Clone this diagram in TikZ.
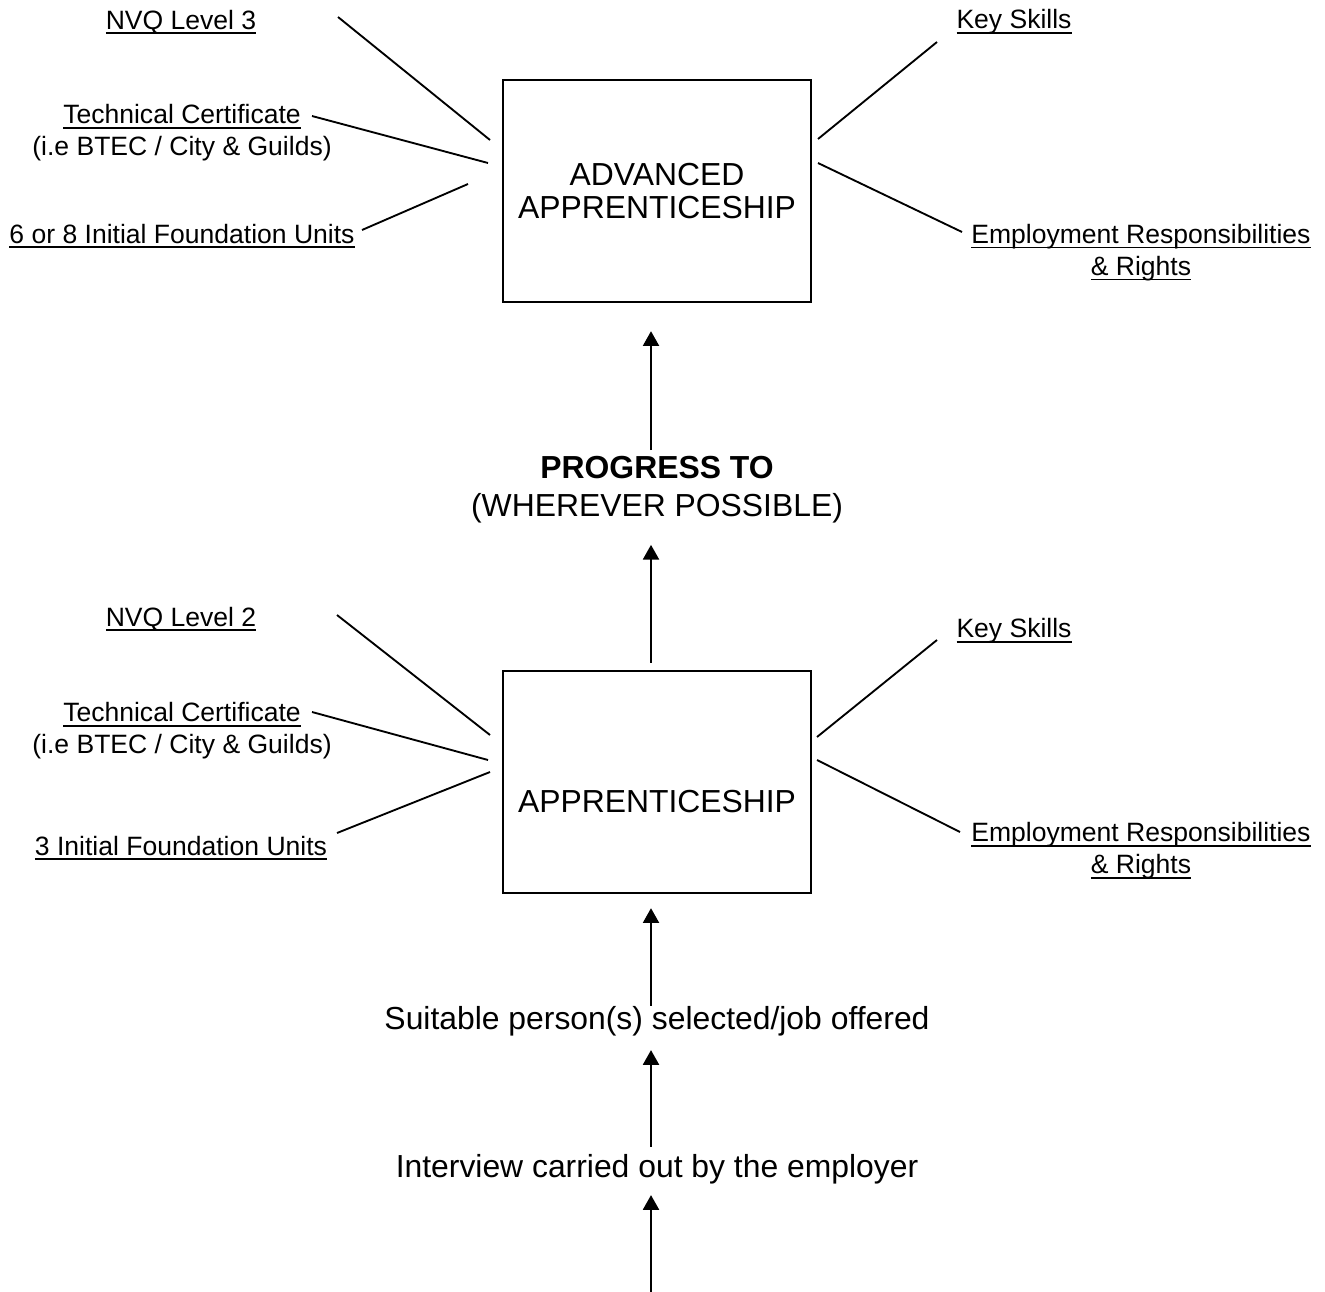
\documentclass[tikz,border=0pt]{standalone}
\usepackage{fontspec}
\setmainfont{Liberation Sans}
\usetikzlibrary{arrows.meta}

\newcommand\lblsize{\fontsize{19.9pt}{24pt}\selectfont}
\newcommand\bigsize{\fontsize{23.9pt}{24.75pt}\selectfont}
\newcommand\ulbl[1]{\leavevmode\setbox0=\hbox{#1}\rlap{\vrule width \wd0 height -2.4pt depth 3.6pt}\box0}

\begin{document}
\begin{tikzpicture}[x=0.75pt,y=-0.75pt,
	qbox/.style={rectangle,draw=black,line width=1.8pt,minimum width=231pt,minimum height=166.5pt,align=center,font=\bigsize},
	lbl/.style={inner sep=0pt,align=center,font=\lblsize},
	stage/.style={inner sep=0pt,align=center,font=\bigsize},
	lnk/.style={line width=1.4pt},
	arr/.style={line width=1.4pt,-{Triangle[length=11pt,width=12pt]}}]
	\useasboundingbox (0,0) rectangle (1325,1292);
	% the two boxes
	\node[qbox] (adv) at (657,191) {ADVANCED\\APPRENTICESHIP};
	\node[qbox,text height=48pt,text depth=2.25pt] (app) at (657,782) {APPRENTICESHIP};
	% steps up the middle
	\node[stage] (prog) at (657,490) {\textbf{PROGRESS TO}\\[4pt](WHEREVER POSSIBLE)};
	\node[stage] (suit) at (657,1021) {Suitable person(s) selected/job offered};
	\node[stage] (intv) at (657,1169) {Interview carried out by the employer};
	\coordinate (start) at (651,1292);
	% labels round the advanced apprenticeship
	\node[lbl] (nvqA) at (181,22) {\ulbl{NVQ Level 3}};
	\node[lbl] (techA) at (182,133) {\ulbl{Technical Certificate}\\(i.e BTEC / City \& Guilds)};
	\node[lbl] (unitA) at (182,236) {\ulbl{6 or 8 Initial Foundation Units}};
	\node[lbl] (keyA) at (1014,22) {\ulbl{Key Skills}};
	\node[lbl] (empA) at (1141,252.5) {\ulbl{Employment Responsibilities}\\\ulbl{\& Rights}};
	% labels round the apprenticeship
	\node[lbl] (nvqB) at (181,619) {\ulbl{NVQ Level 2}};
	\node[lbl] (techB) at (182,731) {\ulbl{Technical Certificate}\\(i.e BTEC / City \& Guilds)};
	\node[lbl] (unitB) at (181,848) {\ulbl{3 Initial Foundation Units}};
	\node[lbl] (keyB) at (1014,631) {\ulbl{Key Skills}};
	\node[lbl] (empB) at (1141,851) {\ulbl{Employment Responsibilities}\\\ulbl{\& Rights}};
	% line ends
	\coordinate (nvqA-e) at (338,17);   \coordinate (advW1) at (490,140);
	\coordinate (techA-e) at (312,116); \coordinate (advW2) at (488,163);
	\coordinate (unitA-e) at (362,230); \coordinate (advW3) at (468,184);
	\coordinate (keyA-w) at (937,42);   \coordinate (advE1) at (818,139);
	\coordinate (empA-w) at (962,232);  \coordinate (advE2) at (818,163);
	\coordinate (nvqB-e) at (337,615);  \coordinate (appW1) at (490,735);
	\coordinate (techB-e) at (312,712); \coordinate (appW2) at (488,760);
	\coordinate (unitB-e) at (337,833); \coordinate (appW3) at (490,772);
	\coordinate (keyB-w) at (937,640);  \coordinate (appE1) at (817,737);
	\coordinate (empB-w) at (960,832);  \coordinate (appE2) at (817,760);
	\draw[lnk] (nvqA-e) -- (advW1);
	\draw[lnk] (techA-e) -- (advW2);
	\draw[lnk] (unitA-e) -- (advW3);
	\draw[lnk] (keyA-w) -- (advE1);
	\draw[lnk] (empA-w) -- (advE2);
	\draw[lnk] (nvqB-e) -- (appW1);
	\draw[lnk] (techB-e) -- (appW2);
	\draw[lnk] (unitB-e) -- (appW3);
	\draw[lnk] (keyB-w) -- (appE1);
	\draw[lnk] (empB-w) -- (appE2);
	% arrows
	\draw[arr,shorten <=4.5pt,shorten >=21pt] ([xshift=-4.5pt]prog.north) -- ([xshift=-4.5pt]adv.south);
	\draw[arr,shorten <=5.25pt,shorten >=15.75pt] ([xshift=-4.5pt]app.north) -- ([xshift=-4.5pt]prog.south);
	\draw[arr,shorten >=10.5pt] ([xshift=-4.5pt]suit.north) -- ([xshift=-4.5pt]app.south);
	\draw[arr,shorten <=5.25pt,shorten >=10.5pt] ([xshift=-4.5pt]intv.north) -- ([xshift=-4.5pt]suit.south);
	\draw[arr,shorten >=8.25pt] (start) -- (start |- intv.south);
\end{tikzpicture}
\end{document}
